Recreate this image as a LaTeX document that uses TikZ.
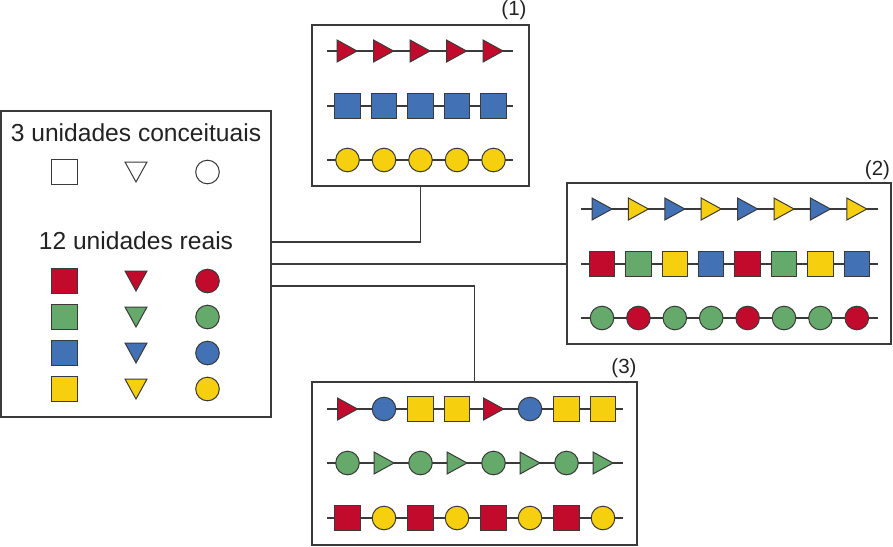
\documentclass[tikz,border=0pt]{standalone}
\usepackage{fontspec}
\setmainfont{Liberation Sans}
\definecolor{cR}{HTML}{C20B2C}
\definecolor{cG}{HTML}{65A96B}
\definecolor{cB}{HTML}{4271B5}
\definecolor{cY}{HTML}{F6D00F}
\definecolor{lineg}{HTML}{3A3A3A}
\definecolor{txt}{HTML}{222222}
\tikzset{
  frame/.style={draw=lineg, line width=1.5pt, rectangle, inner sep=0pt, outer sep=0pt},
  shp/.style={draw=lineg, line width=1pt, line join=miter},
  conn/.style={draw=lineg, line width=1.4pt},
  rowline/.style={draw=lineg, line width=1.2pt},
  bigtxt/.style={text=txt, font=\fontsize{24.6}{28}\selectfont, anchor=base, inner sep=0pt},
  lbltxt/.style={text=txt, font=\fontsize{20.5}{24}\selectfont, anchor=base, inner sep=0pt},
}
\newcommand\ushps[3]{\draw[shp,fill=#3] (#1-12.75,#2-12.75) rectangle (#1+12.75,#2+12.75);}
\newcommand\ushpt[3]{\draw[shp,fill=#3] (#1-10,#2-11) -- (#1+10,#2) -- (#1-10,#2+11) -- cycle;}
\newcommand\ushpd[3]{\draw[shp,fill=#3] (#1-11,#2-10) -- (#1+11,#2-10) -- (#1,#2+10) -- cycle;}
\newcommand\ushpc[3]{\draw[shp,fill=#3] (#1,#2) circle[radius=11.8];}
\begin{document}
\begin{tikzpicture}[x=1pt,y=-1pt]
\useasboundingbox (0,0) rectangle (893,546);
% frames
\node[frame, minimum width=270, minimum height=306] (legend) at (136,264) {};
\node[frame, minimum width=217, minimum height=161] (box1) at (420.5,105.5) {};
\node[frame, minimum width=324, minimum height=161] (box2) at (729,263.5) {};
\node[frame, minimum width=325, minimum height=163] (box3) at (474.5,463.5) {};
% labels
\node[lbltxt] (l1) at (514,15.5) {(1)};
\node[lbltxt] (l2) at (877.5,175) {(2)};
\node[lbltxt] (l3) at (624,373) {(3)};
% connectors
\coordinate (c1) at (271,242);
\coordinate (c2) at (271,264);
\coordinate (c3) at (271,286);
\draw[conn] (legend.east |- c1) -| (box1.south);
\draw[conn] (legend.east |- c2) -- (box2.west |- c2);
\draw[conn] (legend.east |- c3) -| (box3.north);
% legend
\node[bigtxt] (t1) at (136,141) {3 unidades conceituais};
\node[bigtxt] (t2) at (136,249) {12 unidades reais};
\ushps{64.5}{172}{white}
\ushpd{136}{172}{white}
\ushpc{207.5}{172}{white}
\foreach \c [count=\i from 0] in {cR,cG,cB,cY}{
  \ushps{64.5}{281+36*\i}{\c}
  \ushpd{136}{281+36*\i}{\c}
  \ushpc{207.5}{281+36*\i}{\c}
}
% box 1
\draw[rowline] (327,51) -- (513,51);
\draw[rowline] (327,106) -- (513,106);
\draw[rowline] (327,160) -- (513,160);
\foreach \i in {0,...,4}{
  \ushpt{347+36.5*\i}{51}{cR}
  \ushps{347.5+36.5*\i}{106}{cB}
  \ushpc{347.5+36.5*\i}{160}{cY}
}
% box 2
\draw[rowline] (581,209) -- (878,209);
\draw[rowline] (581,264) -- (878,264);
\draw[rowline] (581,318) -- (878,318);
\foreach \c [count=\i from 0] in {cB,cY,cB,cY,cB,cY,cB,cY}{
  \ushpt{602+36.4*\i}{209}{\c}
}
\foreach \c [count=\i from 0] in {cR,cG,cY,cB,cR,cG,cY,cB}{
  \ushps{602+36.4*\i}{264}{\c}
}
\foreach \c [count=\i from 0] in {cG,cR,cG,cG,cR,cG,cG,cR}{
  \ushpc{602+36.4*\i}{318}{\c}
}
% box 3
\draw[rowline] (327,409) -- (623,409);
\draw[rowline] (327,463) -- (623,463);
\draw[rowline] (327,518) -- (623,518);
\foreach \s/\c [count=\i from 0] in {t/cR,c/cB,s/cY,s/cY,t/cR,c/cB,s/cY,s/cY}{
  \csname ushp\s\endcsname{347.5+36.5*\i}{409}{\c}
}
\foreach \s/\c [count=\i from 0] in {c/cG,t/cG,c/cG,t/cG,c/cG,t/cG,c/cG,t/cG}{
  \csname ushp\s\endcsname{347.5+36.5*\i}{463}{\c}
}
\foreach \s/\c [count=\i from 0] in {s/cR,c/cY,s/cR,c/cY,s/cR,c/cY,s/cR,c/cY}{
  \csname ushp\s\endcsname{347.5+36.5*\i}{518}{\c}
}
\end{tikzpicture}
\end{document}
